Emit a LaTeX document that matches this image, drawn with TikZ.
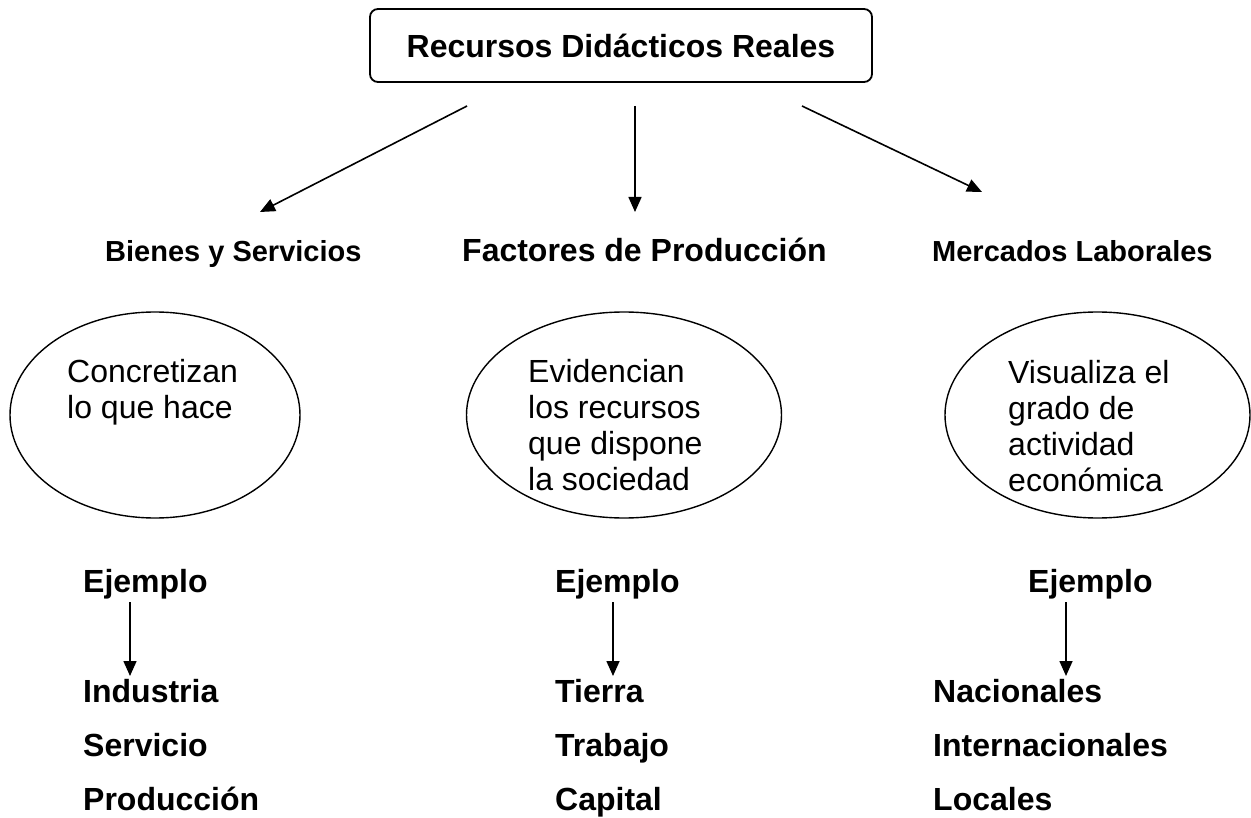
\documentclass[tikz,border=0pt]{standalone}
\usepackage{fontspec}
\setmainfont{Liberation Sans}
\usepackage{tikz}
\usetikzlibrary{arrows.meta, shapes.geometric}

\begin{document}
\begin{tikzpicture}[x=1pt, y=-1pt,
        titlebox/.style={rectangle, rounded corners=8pt, draw=black, line width=1.8pt,
            minimum width=502pt, minimum height=73pt, font=\fontsize{32}{36}\selectfont\bfseries},
        bubble/.style={ellipse, draw=black, line width=1.4pt, minimum height=206pt},
        head/.style={anchor=base west, inner sep=0pt, font=\fontsize{32}{36}\selectfont\bfseries},
        smallhead/.style={head, font=\fontsize{29}{33}\selectfont\bfseries},
        note/.style={anchor=base west, inner sep=0pt, align=left, font=\fontsize{32}{36}\selectfont},
        items/.style={anchor=base west, inner sep=0pt, align=left, font=\fontsize{32}{54}\selectfont\bfseries},
        link/.style={-{Triangle[length=15pt, width=13pt]}, line width=1.6pt}
    ]
    \useasboundingbox (0,0) rectangle (1251,818);

    \node[titlebox] (recursos) at (621,45.5) {Recursos Didácticos Reales};

    % free ends of the arrows below the title
    \coordinate (r1) at (467,106);
    \coordinate (r2) at (635,106);
    \coordinate (r3) at (802,106);
    \coordinate (b1) at (260,212);
    \coordinate (b2) at (635,212);
    \coordinate (b3) at (982,192);
    \draw[link] (r1) -- (b1);
    \draw[link] (r2) -- (b2);
    \draw[link] (r3) -- (b3);

    \node[smallhead] (bienes) at (105,262) {Bienes y Servicios};
    \node[head] (factores) at (462,262) {Factores de Producción};
    \node[smallhead] (mercados) at (932,262) {Mercados Laborales};

    \node[bubble, minimum width=290pt] (e1) at (155,415) {};
    \node[bubble, minimum width=315pt] (e2) at (624,415) {};
    \node[bubble, minimum width=305pt] (e3) at (1097.5,415) {};
    % base of a multi-line node is its last line
    \node[note] (t1) at (67,418) {Concretizan\\lo que hace};
    \node[note] (t2) at (528,490) {Evidencian\\los recursos\\que dispone\\la sociedad};
    \node[note] (t3) at (1008,491) {Visualiza el\\grado de\\actividad\\económica};

    \node[head] (ej1) at (83,592) {Ejemplo};
    \node[head] (ej2) at (555,592) {Ejemplo};
    \node[head] (ej3) at (1028,592) {Ejemplo};

    \coordinate (s1) at (130,602);
    \coordinate (s2) at (613,602);
    \coordinate (s3) at (1066,602);
    \coordinate (f1) at (130,676);
    \coordinate (f2) at (613,676);
    \coordinate (f3) at (1066,676);
    \draw[link] (s1) -- (f1);
    \draw[link] (s2) -- (f2);
    \draw[link] (s3) -- (f3);

    \node[items] (l1) at (83,810) {Industria\\Servicio\\Producción};
    \node[items] (l2) at (555,810) {Tierra\\Trabajo\\Capital};
    \node[items] (l3) at (933,810) {Nacionales\\Internacionales\\Locales};
\end{tikzpicture}
\end{document}
